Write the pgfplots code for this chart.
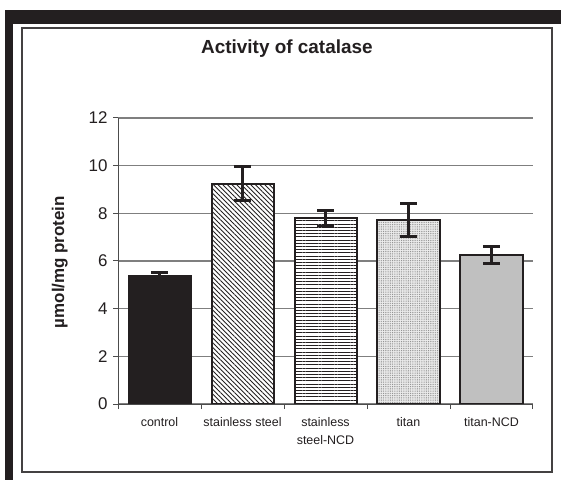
\documentclass[border=0pt]{standalone}
\usepackage{fontspec}
\setmainfont{Liberation Sans}
\usepackage{pgfplots}
\pgfplotsset{compat=1.18}
\usetikzlibrary{patterns.meta}
\definecolor{ink}{HTML}{231F20}
\definecolor{gridc}{HTML}{7F7F7F}
\definecolor{barg}{HTML}{C0C0C0}
\begin{document}
\begin{tikzpicture}
\useasboundingbox (0,0) rectangle (561bp,480bp);
\fill[white] (0,0) rectangle (561bp,480bp);
\fill[ink] (5bp,456bp) rectangle (561bp,470bp);
\fill[ink] (5bp,0) rectangle (13bp,470bp);
\draw[line width=1.5bp, ink!85] (22bp,8bp) rectangle (552bp,452bp);
\begin{axis}[
 at={(118bp,76bp)}, anchor=south west,
 scale only axis, width=415bp, height=286bp,
 xmin=-0.5, xmax=4.5, ymin=0, ymax=12,
 axis x line*=bottom, axis y line*=left,
 axis line style={line width=1bp, black!70, -},
 ytick={0,2,...,12},
 ymajorgrids, grid style={line width=1.2bp, gridc},
 tick align=outside,
 major tick length=5bp,
 tick style={line width=1bp, black!70},
 xtick={-0.5,0.5,1.5,2.5,3.5,4.5}, xticklabels={},
 extra x ticks={0,1,2,3,4},
 extra x tick labels={control, stainless steel, {stainless\\steel-NCD}, titan, titan-NCD},
 extra x tick style={major tick length=0pt, grid=none},
 xticklabel style={align=center, font=\fontsize{12.5}{18}\selectfont, yshift=-10bp, text=ink},
 yticklabel style={font=\fontsize{17}{20}\selectfont, xshift=-2bp, text=ink},
 /pgf/number format/assume math mode=true,
 title={\textbf{Activity of catalase}},
 title style={at={(axis description cs:0.407,1.223)}, anchor=center, font=\fontsize{19}{22}\selectfont, text=ink},
 ylabel={\textbf{µmol/mg protein}},
 ylabel style={at={(axis description cs:-0.14,0.4965)}, anchor=center, rotate=0, font=\fontsize{17}{20}\selectfont, text=ink},
 every axis plot/.append style={ybar, bar width=62bp, bar shift=0pt, line width=2bp, draw=ink},
 error bars/error bar style={line width=2.6bp, ink},
 error bars/error mark options={line width=2.8bp, ink, mark size=8.5bp, rotate=90},
]
\addplot[fill=ink, error bars/.cd, y dir=both, y explicit] coordinates {(0,5.38) +- (0,0.13)};
\addplot[preaction={fill=white}, pattern={Lines[angle=-45,distance=3.3bp,line width=0.9bp]}, pattern color=ink, error bars/.cd, y dir=both, y explicit] coordinates {(1,9.25) +- (0,0.71)};
\addplot[preaction={fill=white}, pattern={Lines[angle=0,distance=3.2bp,line width=0.9bp]}, pattern color=ink, error bars/.cd, y dir=both, y explicit] coordinates {(2,7.79) +- (0,0.32)};
\addplot[preaction={fill=black!8}, pattern={Dots[distance=1.8bp,radius=0.45bp]}, pattern color=black!55, error bars/.cd, y dir=both, y explicit] coordinates {(3,7.72) +- (0,0.70)};
\addplot[fill=barg, error bars/.cd, y dir=both, y explicit] coordinates {(4,6.25) +- (0,0.36)};
\end{axis}
\end{tikzpicture}
\end{document}
